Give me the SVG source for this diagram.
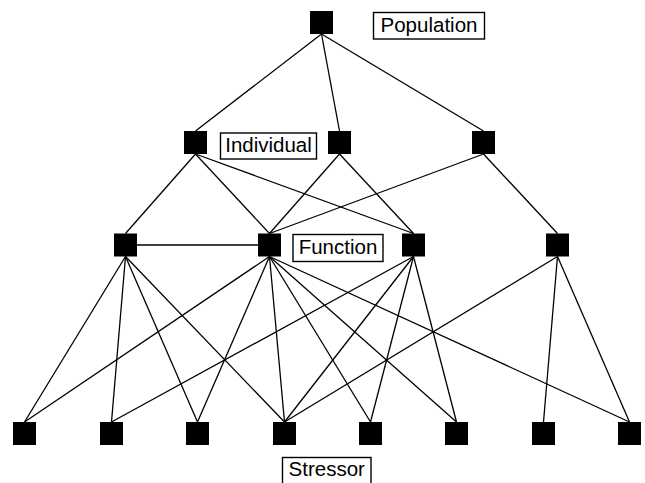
<svg xmlns="http://www.w3.org/2000/svg" width="645" height="483" viewBox="0 0 645 483">
<style>
.n{fill:#000}
.e{stroke:#000;stroke-width:1.3;fill:none}
.lb{fill:#fff;stroke:#000;stroke-width:1.4}
.t{font-family:"Liberation Sans",Arial,sans-serif;font-size:20.5px;fill:#000;text-anchor:middle}
</style>
<rect width="645" height="483" fill="#fff"/>
<g id="connectors" class="e">
<line x1="321.5" y1="34" x2="195.5" y2="131"/>
<line x1="321.5" y1="34" x2="339.5" y2="131"/>
<line x1="321.5" y1="34" x2="483.5" y2="131"/>
<line x1="195.5" y1="154" x2="125.5" y2="233.5"/>
<line x1="195.5" y1="154" x2="269.5" y2="233.5"/>
<line x1="195.5" y1="154" x2="413.5" y2="233.5"/>
<line x1="339.5" y1="154" x2="269.5" y2="233.5"/>
<line x1="339.5" y1="154" x2="413.5" y2="233.5"/>
<line x1="483.5" y1="154" x2="269.5" y2="233.5"/>
<line x1="483.5" y1="154" x2="557.5" y2="233.5"/>
<line x1="137" y1="245" x2="258" y2="245"/>
<line x1="125.5" y1="256.5" x2="24.5" y2="422"/>
<line x1="125.5" y1="256.5" x2="111.5" y2="422"/>
<line x1="125.5" y1="256.5" x2="197.5" y2="422"/>
<line x1="125.5" y1="256.5" x2="284.5" y2="422"/>
<line x1="269.5" y1="256.5" x2="24.5" y2="422"/>
<line x1="269.5" y1="256.5" x2="197.5" y2="422"/>
<line x1="269.5" y1="256.5" x2="284.5" y2="422"/>
<line x1="269.5" y1="256.5" x2="370.5" y2="422"/>
<line x1="269.5" y1="256.5" x2="456.5" y2="422"/>
<line x1="269.5" y1="256.5" x2="629.5" y2="422"/>
<line x1="413.5" y1="256.5" x2="111.5" y2="422"/>
<line x1="413.5" y1="256.5" x2="284.5" y2="422"/>
<line x1="413.5" y1="256.5" x2="370.5" y2="422"/>
<line x1="413.5" y1="256.5" x2="456.5" y2="422"/>
<line x1="557.5" y1="256.5" x2="284.5" y2="422"/>
<line x1="557.5" y1="256.5" x2="543.5" y2="422"/>
<line x1="557.5" y1="256.5" x2="629.5" y2="422"/>
</g>
<g id="pop"><rect class="n" x="310" y="11" width="23" height="23"/></g>
<g id="i1"><rect class="n" x="184" y="131" width="23" height="23"/></g>
<g id="i2"><rect class="n" x="328" y="131" width="23" height="23"/></g>
<g id="i3"><rect class="n" x="472" y="131" width="23" height="23"/></g>
<g id="f1"><rect class="n" x="114" y="233.5" width="23" height="23"/></g>
<g id="f2"><rect class="n" x="258" y="233.5" width="23" height="23"/></g>
<g id="f3"><rect class="n" x="402" y="233.5" width="23" height="23"/></g>
<g id="f4"><rect class="n" x="546" y="233.5" width="23" height="23"/></g>
<g id="s1"><rect class="n" x="13" y="422" width="23" height="23"/></g>
<g id="s2"><rect class="n" x="100" y="422" width="23" height="23"/></g>
<g id="s3"><rect class="n" x="186" y="422" width="23" height="23"/></g>
<g id="s4"><rect class="n" x="273" y="422" width="23" height="23"/></g>
<g id="s5"><rect class="n" x="359" y="422" width="23" height="23"/></g>
<g id="s6"><rect class="n" x="445" y="422" width="23" height="23"/></g>
<g id="s7"><rect class="n" x="532" y="422" width="23" height="23"/></g>
<g id="s8"><rect class="n" x="618" y="422" width="23" height="23"/></g>
<g id="label-population"><rect class="lb" x="373.5" y="12.5" width="111" height="26.5"/><text class="t" x="429" y="31.5">Population</text></g>
<g id="label-individual"><rect class="lb" x="220.5" y="133" width="96" height="26"/><text class="t" x="268.5" y="152">Individual</text></g>
<g id="label-function"><rect class="lb" x="293" y="234.5" width="90" height="27"/><text class="t" x="338" y="254">Function</text></g>
<g id="label-stressor"><rect class="lb" x="282.5" y="457.5" width="88.5" height="28"/><text class="t" x="326.7" y="476">Stressor</text></g>
</svg>
